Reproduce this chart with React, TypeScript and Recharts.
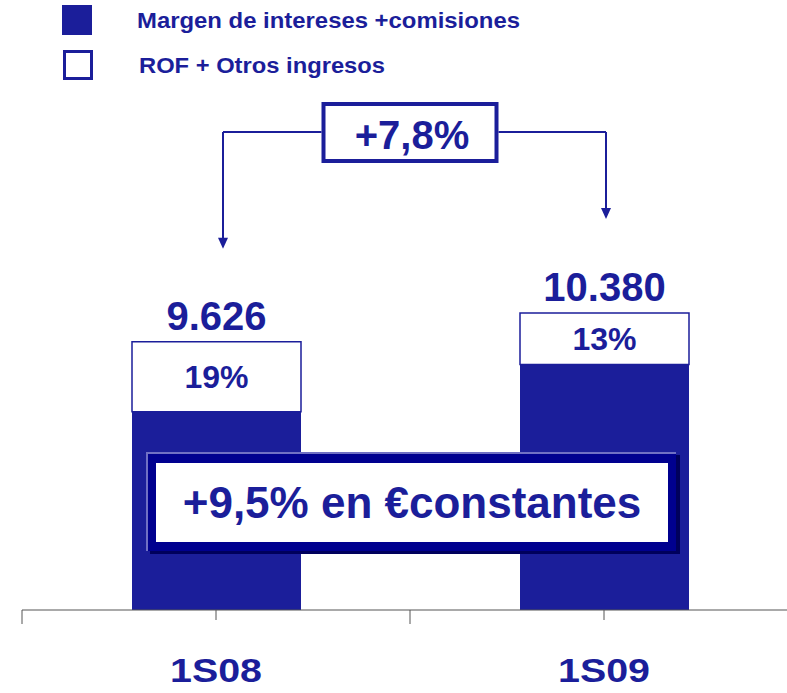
import React from 'react';
import { BarChart, Bar, XAxis, YAxis, LabelList, Customized } from 'recharts';

const periods = ['1S08', '1S09'];
const margenIntereses = [7797, 9031];
const rofOtrosIngresos = [1829, 1349];
const totals = [9626, 10380];
const totalLabels = ['9.626', '10.380'];
const rofShareLabels = ['19%', '13%'];
const growthLabel = '+7,8%';
const constantLabel = '+9,5% en €constantes';
const legendLabels = ['Margen de intereses +comisiones', 'ROF + Otros ingresos'];

const BLUE = '#1B1E9A';
const FRAME = '#00008F';
const FONT = '"Liberation Sans", Arial, Helvetica, sans-serif';

const W = 800;
const H = 693;
const margin = { top: 110, right: 2, left: 22, bottom: 23 };
const axisHeight = 60;
const yDomain: [number, number] = [2600, 15700];

const plotBottom = H - margin.bottom - axisHeight;
const plotHeight = plotBottom - margin.top;
const band = (W - margin.left - margin.right) / periods.length;
const xCenter = (i: number) => margin.left + band * (i + 0.5);
const yOf = (v: number) =>
  plotBottom - ((v - yDomain[0]) / (yDomain[1] - yDomain[0])) * plotHeight;

const data = periods.map((period, i) => ({
  period,
  margen: margenIntereses[i],
  rof: rofOtrosIngresos[i],
  share: rofShareLabels[i],
  totalLabel: totalLabels[i],
}));

const AxisTick = (props: any) => {
  const { x, payload } = props;
  const y = plotBottom;
  return (
    <g>
      <line x1={x} y1={y} x2={x} y2={y + 10} stroke="#555" strokeWidth={1} />
      <line x1={x - band / 2} y1={y} x2={x - band / 2} y2={y + 14} stroke="#555" strokeWidth={1} />
      <text
        x={x}
        y={y + 72}
        textAnchor="middle"
        fill={BLUE}
        fontSize={34}
        fontWeight="bold"
        fontFamily={FONT}
        textLength={92}
        lengthAdjust="spacingAndGlyphs"
      >
        {payload.value}
      </text>
    </g>
  );
};

const TotalLabel = (props: any) => {
  const { x, y, width, value } = props;
  return (
    <text
      x={x + width / 2}
      y={y - 12}
      textAnchor="middle"
      fill={BLUE}
      fontSize={40}
      fontWeight="bold"
      fontFamily={FONT}
    >
      {value}
    </text>
  );
};

const Arrow = ({ x, y1, y2 }: { x: number; y1: number; y2: number }) => (
  <g>
    <line x1={x} y1={y1} x2={x} y2={y2 - 8} stroke={BLUE} strokeWidth={2} />
    <polygon points={`${x - 5},${y2 - 11} ${x + 5},${y2 - 11} ${x},${y2}`} fill={BLUE} />
  </g>
);

const LegendAndGrowth = () => {
  const mid = margin.left + band;
  const boxW = 177;
  const boxTop = 102;
  const boxH = 61;
  const lineY = 132;
  const leftX = xCenter(0) + 7;
  const rightX = xCenter(1) + 2;
  const leftTip = yOf(totals[0]) - 93;
  const rightTip = yOf(totals[1]) - 94;
  return (
    <g fontFamily={FONT}>
      {/* legend */}
      <rect x={62} y={5} width={30} height={30} fill={BLUE} />
      <text
        x={137}
        y={28}
        fill={BLUE}
        fontSize={22}
        fontWeight="bold"
        textLength={383}
        lengthAdjust="spacingAndGlyphs"
      >
        {legendLabels[0]}
      </text>
      <rect x={64.5} y={51.5} width={27} height={27} fill="#fff" stroke={BLUE} strokeWidth={3} />
      <text
        x={139}
        y={73}
        fill={BLUE}
        fontSize={22}
        fontWeight="bold"
        textLength={246}
        lengthAdjust="spacingAndGlyphs"
      >
        {legendLabels[1]}
      </text>

      {/* growth connector */}
      <line x1={mid - boxW / 2} y1={lineY} x2={leftX} y2={lineY} stroke={BLUE} strokeWidth={2} />
      <line x1={mid + boxW / 2} y1={lineY} x2={rightX} y2={lineY} stroke={BLUE} strokeWidth={2} />
      <Arrow x={leftX} y1={lineY} y2={leftTip} />
      <Arrow x={rightX} y1={lineY} y2={rightTip} />
      <rect
        x={mid - boxW / 2 + 2}
        y={boxTop + 2}
        width={boxW - 4}
        height={boxH - 4}
        fill="#fff"
        stroke={BLUE}
        strokeWidth={4}
      />
      <text
        x={mid + 2}
        y={boxTop + 47}
        textAnchor="middle"
        fill={BLUE}
        fontSize={40}
        fontWeight="bold"
      >
        {growthLabel}
      </text>
    </g>
  );
};

// drawn over the bars, so it sits in its own svg on top of the chart
const ConstantBox = () => {
  const mid = margin.left + band;
  const bx = mid - 264;
  const by = 452;
  return (
    <svg
      width={787}
      height={693}
      style={{ position: 'absolute', left: 0, top: 0, pointerEvents: 'none' }}
    >
      <g fontFamily={FONT}>
        <rect x={bx + 4} y={by + 3} width={530} height={99} fill="#00005C" />
        <rect x={bx} y={by} width={530} height={99} fill="#7070C4" />
        <rect x={bx + 2} y={by + 2} width={528} height={97} fill={FRAME} />
        <rect x={bx + 10} y={by + 11} width={512} height={79} fill="#fff" />
        <text
          x={bx + 266}
          y={by + 66}
          textAnchor="middle"
          fill={BLUE}
          fontSize={44}
          fontWeight="bold"
        >
          {constantLabel}
        </text>
      </g>
    </svg>
  );
};

export default function App() {
  return (
    <div
      style={{
        position: 'absolute',
        left: 0,
        top: 0,
        width: 787,
        height: 693,
        overflow: 'hidden',
        background: '#fff',
      }}
    >
      <BarChart width={W} height={H} data={data} margin={margin}>
        <XAxis
          dataKey="period"
          height={axisHeight}
          axisLine={{ stroke: '#555', strokeWidth: 1 }}
          tickLine={false}
          tickSize={0}
          tickMargin={0}
          tick={<AxisTick />}
          interval={0}
        />
        <YAxis hide width={0} type="number" domain={yDomain} allowDataOverflow />
        <Bar dataKey="margen" stackId="a" fill={BLUE} barSize={169} isAnimationActive={false} />
        <Bar
          dataKey="rof"
          stackId="a"
          fill="#fff"
          stroke={BLUE}
          strokeWidth={1.5}
          barSize={169}
          isAnimationActive={false}
        >
          <LabelList
            dataKey="share"
            position="center"
            fill={BLUE}
            fontSize={32}
            fontWeight="bold"
            fontFamily={FONT}
          />
          <LabelList dataKey="totalLabel" content={<TotalLabel />} />
        </Bar>
        <Customized component={<LegendAndGrowth />} />
      </BarChart>
      <ConstantBox />
    </div>
  );
}
